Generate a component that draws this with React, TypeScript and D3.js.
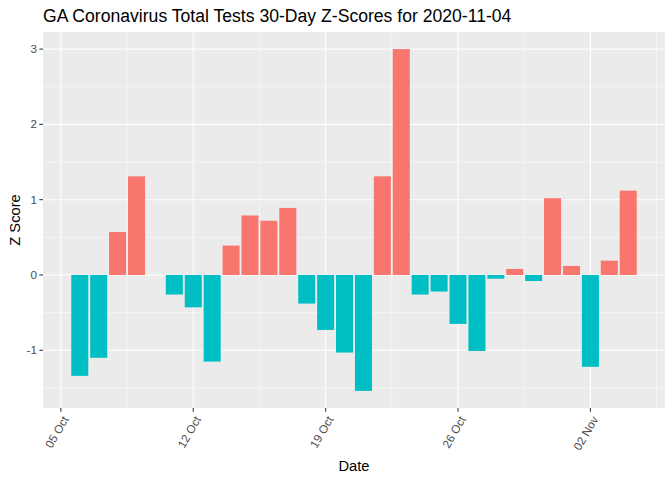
import React from "react";
import * as d3 from "d3";

const dates: string[] = [
  "2020-10-06", "2020-10-07", "2020-10-08", "2020-10-09",
  "2020-10-11", "2020-10-12", "2020-10-13", "2020-10-14", "2020-10-15", "2020-10-16", "2020-10-17",
  "2020-10-18", "2020-10-19", "2020-10-20", "2020-10-21", "2020-10-22", "2020-10-23", "2020-10-24",
  "2020-10-25", "2020-10-26", "2020-10-27", "2020-10-28", "2020-10-29", "2020-10-30", "2020-10-31",
  "2020-11-01", "2020-11-02", "2020-11-03", "2020-11-04",
];
const zScores: number[] = [
  -1.34, -1.10, 0.57, 1.31,
  -0.26, -0.43, -1.15, 0.39, 0.79, 0.72, 0.89,
  -0.38, -0.73, -1.03, -1.54, 1.31, 3.00, -0.26,
  -0.22, -0.65, -1.01, -0.05, 0.08, -0.08, 1.02,
  0.12, -1.22, 0.19, 1.12,
];
const xTickDates: string[] = ["2020-10-05", "2020-10-12", "2020-10-19", "2020-10-26", "2020-11-02"];
const xTickLabels: string[] = ["05 Oct", "12 Oct", "19 Oct", "26 Oct", "02 Nov"];
const yTicks: number[] = [-1, 0, 1, 2, 3];
const title = "GA Coronavirus Total Tests 30-Day Z-Scores for 2020-11-04";

const W = 672, H = 480;
const P = { left: 43, right: 665, top: 32, bottom: 408 };
const DAY = 86400000;
const FONT = "'Liberation Sans', Arial, sans-serif";

export default function App() {
  const parse = (s: string) => new Date(s + "T00:00:00Z");
  const times = dates.map(parse);
  const minT = d3.min(times)!.getTime() - 0.45 * DAY;
  const maxT = d3.max(times)!.getTime() + 0.45 * DAY;
  const padT = (maxT - minT) * 0.05;
  const x = d3.scaleUtc().domain([new Date(minT - padT), new Date(maxT + padT)]).range([P.left, P.right]);

  const yMin = Math.min(0, d3.min(zScores)!);
  const yMax = Math.max(0, d3.max(zScores)!);
  const padY = (yMax - yMin) * 0.05;
  const y = d3.scaleLinear().domain([yMin - padY, yMax + padY]).range([P.bottom, P.top]);

  const majorX = xTickDates.map(parse);
  const minorX: Date[] = [];
  const [d0, d1] = x.domain();
  for (let i = -1; i < majorX.length; i++) {
    const base = i < 0 ? majorX[0].getTime() - 7 * DAY : majorX[i].getTime();
    const m = new Date(base + 3.5 * DAY);
    if (m >= d0 && m <= d1) minorX.push(m);
  }
  const yMinor = yTicks.map((t) => t + 0.5).concat([yTicks[0] - 0.5]).filter((v) => {
    const [a, b] = y.domain();
    return v >= a && v <= b;
  });

  const barW = x(new Date(0.9 * DAY)) - x(new Date(0));

  return (
    <svg width={W} height={H} style={{ position: "absolute", left: 0, top: 0, display: "block" }} fontFamily={FONT}>
      <rect x={0} y={0} width={W} height={H} fill="#ffffff" />
      <text x={P.left} y={22} fontSize={17.6} fill="#000000">{title}</text>
      <rect x={P.left} y={P.top} width={P.right - P.left} height={P.bottom - P.top} fill="#EBEBEB" />
      {minorX.map((d, i) => (
        <line key={"mx" + i} x1={x(d)} x2={x(d)} y1={P.top} y2={P.bottom} stroke="#fff" strokeWidth={0.53} />
      ))}
      {yMinor.map((v, i) => (
        <line key={"my" + i} x1={P.left} x2={P.right} y1={y(v)} y2={y(v)} stroke="#fff" strokeWidth={0.53} />
      ))}
      {majorX.map((d, i) => (
        <line key={"Mx" + i} x1={x(d)} x2={x(d)} y1={P.top} y2={P.bottom} stroke="#fff" strokeWidth={1.07} />
      ))}
      {yTicks.map((v, i) => (
        <line key={"My" + i} x1={P.left} x2={P.right} y1={y(v)} y2={y(v)} stroke="#fff" strokeWidth={1.07} />
      ))}
      {times.map((t, i) => {
        const v = zScores[i];
        const cx = x(t);
        const y0 = y(0), y1 = y(v);
        return (
          <rect key={"b" + i} x={cx - barW / 2} width={barW} y={Math.min(y0, y1)} height={Math.abs(y1 - y0)}
            fill={v > 0 ? "#F8766D" : "#00BFC4"} />
        );
      })}
      {yTicks.map((v, i) => (
        <g key={"yt" + i}>
          <line x1={P.left - 3.67} x2={P.left} y1={y(v)} y2={y(v)} stroke="#333333" strokeWidth={1.07} />
          <text x={P.left - 6} y={y(v)} dy="0.35em" textAnchor="end" fontSize={11.7} fill="#4D4D4D">{v}</text>
        </g>
      ))}
      {majorX.map((d, i) => (
        <g key={"xt" + i}>
          <line x1={x(d)} x2={x(d)} y1={P.bottom} y2={P.bottom + 3.67} stroke="#333333" strokeWidth={1.07} />
          <text transform={`translate(${x(d) + 1},${P.bottom + 7}) rotate(-60)`} textAnchor="end" dy="0.71em"
            fontSize={11.7} fill="#4D4D4D">{xTickLabels[i]}</text>
        </g>
      ))}
      <text x={(P.left + P.right) / 2} y={471} textAnchor="middle" fontSize={14.7} fill="#000">Date</text>
      <text transform={`translate(20,${(P.top + P.bottom) / 2}) rotate(-90)`} textAnchor="middle" fontSize={14.7} fill="#000">Z Score</text>
    </svg>
  );
}
